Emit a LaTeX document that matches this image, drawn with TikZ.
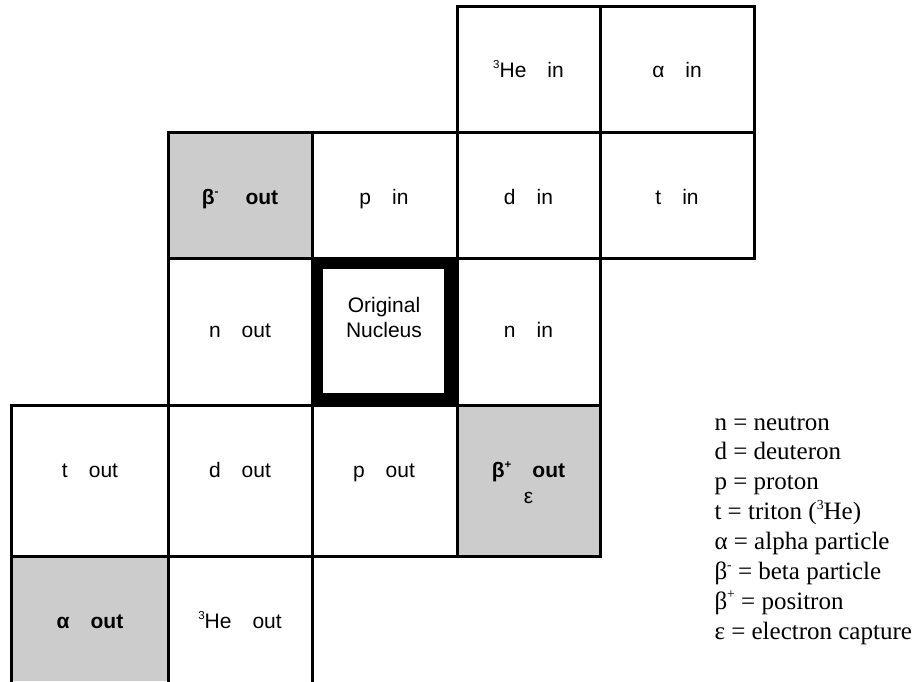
\documentclass[tikz,border=0pt]{standalone}
\usepackage{fontspec}
\setmainfont{Liberation Serif}
\setsansfont{Liberation Sans}
\usepackage{xcolor}
\definecolor{cellgray}{HTML}{CCCCCC}
\newcommand{\cellgap}{\hspace{21pt}}
\newcommand{\upidx}[1]{\raisebox{0.42em}{\scalebox{0.55}{#1}}}

\begin{document}
\begin{tikzpicture}[x=1pt,y=-1pt,line width=3pt,line cap=rect,
  cell/.style={font=\sffamily\fontsize{21}{25}\selectfont,anchor=base,inner sep=0pt},
  decay/.style={cell,font=\sffamily\bfseries\fontsize{21}{25}\selectfont},
  key/.style={font=\rmfamily\fontsize{25}{30}\selectfont,anchor=base west,inner sep=0pt}]
\useasboundingbox (0,0) rectangle (917,681);
% shaded decay cells
\fill[cellgray] (168,132) rectangle (312,258);
\fill[cellgray] (457,405) rectangle (600,556);
\fill[cellgray] (11,556) rectangle (168,681);
% table lines
\draw (457,6) -- (754,6);
\draw (168,132) -- (754,132);
\draw (168,258) -- (754,258);
\draw (11,405) -- (600,405);
\draw (11,556) -- (600,556);
\draw (11,405) -- (11,681);
\draw (168,132) -- (168,681);
\draw (312,132) -- (312,681);
\draw (457,6) -- (457,556);
\draw (600,6) -- (600,556);
\draw (754,6) -- (754,258);
% the original nucleus
\draw[line width=12pt,line cap=butt] (317,263) rectangle (450,399);
% cell texts
\node[cell] (heIn) at (528.5,77) {\upidx{3}He\cellgap in};
\node[cell] (alphaIn) at (677,77) {α\cellgap in};
\node[decay] (betaMinus) at (240,204) {β\upidx{-}\hspace{6pt}\cellgap out};
\node[cell] (pIn) at (384,204) {p\cellgap in};
\node[cell] (dIn) at (528.5,204) {d\cellgap in};
\node[cell] (tIn) at (677,204) {t\cellgap in};
\node[cell] (nOut) at (240,337) {n\cellgap out};
\node[cell] (nucTop) at (384,312) {Original};
\node[cell] (nucBot) at (384,337) {Nucleus};
\node[cell] (nIn) at (528.5,337) {n\cellgap in};
\node[cell] (tOut) at (90,477) {t\cellgap out};
\node[cell] (dOut) at (240,477) {d\cellgap out};
\node[cell] (pOut) at (384,477) {p\cellgap out};
\node[decay] (betaPlus) at (528.5,477) {β\upidx{+}\cellgap out};
\node[cell] (capture) at (528.5,503) {ε};
\node[decay] (alphaOut) at (90,628) {α\cellgap out};
\node[cell] (heOut) at (240,628) {\upidx{3}He\cellgap out};
% key
\foreach \txt [count=\i] in {{n = neutron},{d = deuteron},{p = proton},
    {t = triton (\upidx{3}He)},{α = alpha particle},
    {β\upidx{-} = beta particle},{β\upidx{+} = positron},
    {ε = electron capture}}
  \node[key] (key\i) at (713,{430+29.9*(\i-1)}) {\txt};
\end{tikzpicture}
\end{document}
